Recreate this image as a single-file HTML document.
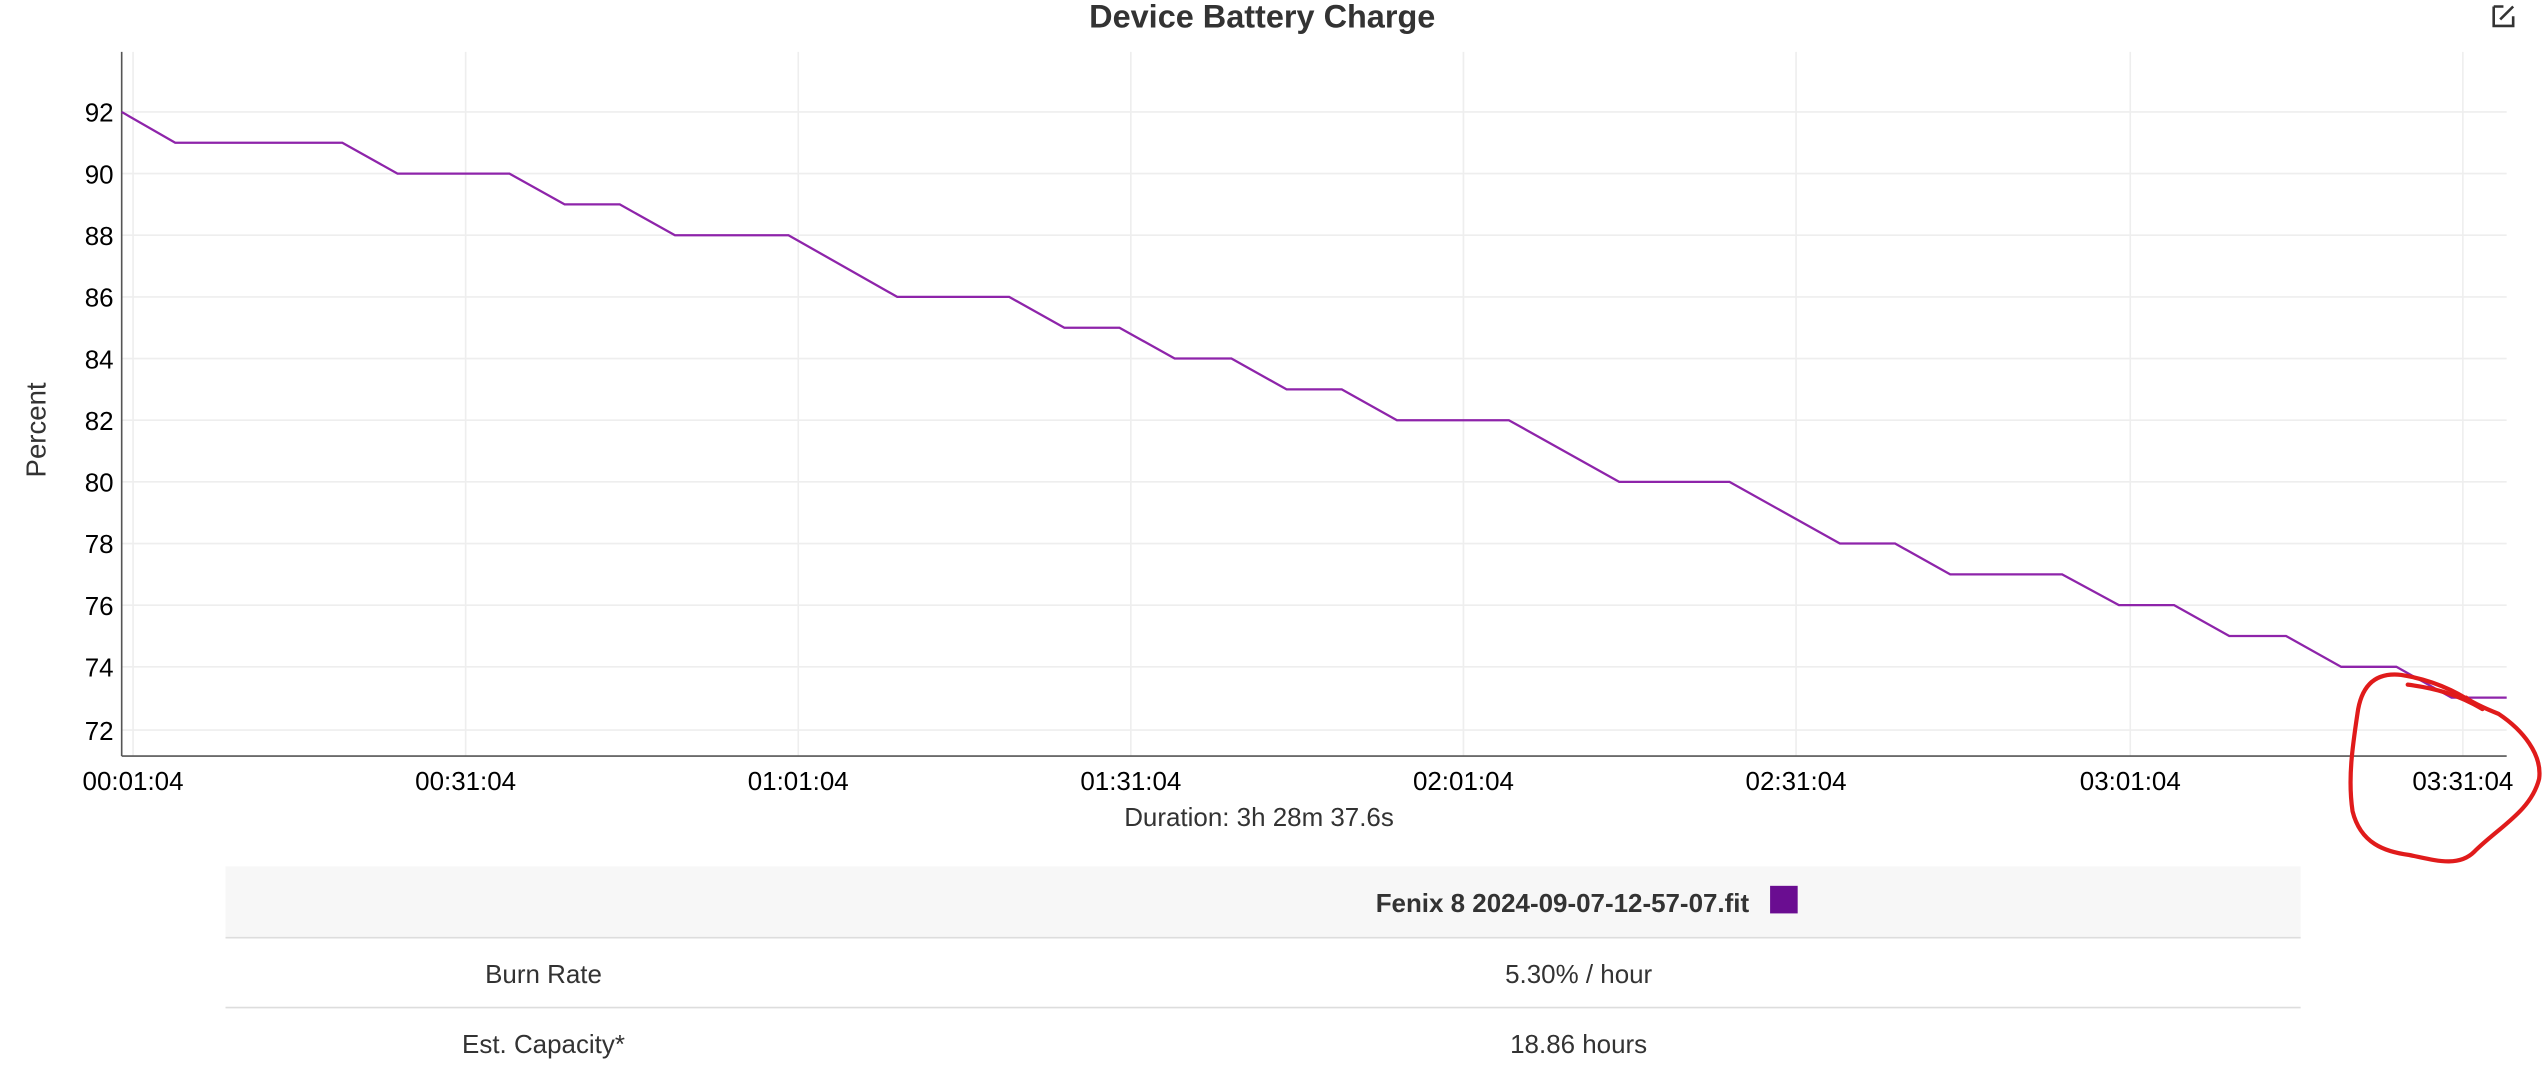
<!DOCTYPE html>
<html><head><style>html,body{margin:0;padding:0;background:#fff;overflow:hidden}svg{display:block}</style></head>
<body>
<svg width="2544" height="1072" viewBox="0 0 1568 660.75" preserveAspectRatio="none" xmlns="http://www.w3.org/2000/svg" font-family="Liberation Sans, sans-serif">
<rect width="1568" height="661" fill="#fff"/>
<text x="778" y="17" text-anchor="middle" font-size="20" font-weight="bold" fill="#333">Device Battery Charge</text>
<g fill="none" stroke="#333" stroke-width="1.6"><path d="M1537 4h6M1537 4v12h12v-6"/><path d="M1541 12l8-8"/></g>
<g stroke="#eee" stroke-width="1">
<line x1="75" x2="1545" y1="69" y2="69"/><line x1="75" x2="1545" y1="107" y2="107"/><line x1="75" x2="1545" y1="145" y2="145"/><line x1="75" x2="1545" y1="183" y2="183"/><line x1="75" x2="1545" y1="221" y2="221"/><line x1="75" x2="1545" y1="259" y2="259"/><line x1="75" x2="1545" y1="297" y2="297"/><line x1="75" x2="1545" y1="335" y2="335"/><line x1="75" x2="1545" y1="373" y2="373"/><line x1="75" x2="1545" y1="411" y2="411"/><line x1="75" x2="1545" y1="450" y2="450"/>
<line x1="82" x2="82" y1="32" y2="466"/><line x1="287" x2="287" y1="32" y2="466"/><line x1="492" x2="492" y1="32" y2="466"/><line x1="697" x2="697" y1="32" y2="466"/><line x1="902" x2="902" y1="32" y2="466"/><line x1="1107" x2="1107" y1="32" y2="466"/><line x1="1313" x2="1313" y1="32" y2="466"/><line x1="1518" x2="1518" y1="32" y2="466"/>
</g>
<line x1="75" x2="75" y1="32" y2="466" stroke="#555"/>
<line x1="75" x2="1545" y1="466" y2="466" stroke="#555"/>
<g font-size="16" fill="#000" text-anchor="end">
<text x="70" y="75">92</text><text x="70" y="113">90</text><text x="70" y="151">88</text><text x="70" y="189">86</text><text x="70" y="227">84</text><text x="70" y="265">82</text><text x="70" y="303">80</text><text x="70" y="341">78</text><text x="70" y="379">76</text><text x="70" y="417">74</text><text x="70" y="456">72</text>
</g>
<g font-size="16" fill="#000" text-anchor="middle">
<text x="82" y="487">00:01:04</text><text x="287" y="487">00:31:04</text><text x="492" y="487">01:01:04</text><text x="697" y="487">01:31:04</text><text x="902" y="487">02:01:04</text><text x="1107" y="487">02:31:04</text><text x="1313" y="487">03:01:04</text><text x="1518" y="487">03:31:04</text>
<text x="776" y="509" fill="#333">Duration: 3h 28m 37.6s</text>
</g>
<text transform="translate(28,265) rotate(-90)" font-size="17" fill="#333" text-anchor="middle">Percent</text>
<polyline fill="none" stroke="#8e24aa" stroke-width="1.4" points="75,69 108,88 211,88 245,107 314,107 348,126 382,126 416,145 486,145 553,183 622,183 656,202 690,202 724,221 759,221 793,240 827,240 861,259 930,259 998,297 1066,297 1134,335 1168,335 1202,354 1271,354 1306,373 1340,373 1374,392 1409,392 1443,411 1477,411 1511,430 1545,430"/>
<g fill="none" stroke="#e01b1b" stroke-width="2.6" stroke-linecap="round">
<path d="M1484,422 C1500,424 1515,428 1530,437"/>
<path d="M1530,437 C1520,430 1505,420 1480,416 C1462,414 1455,425 1453,440 C1450,460 1447,480 1450,500 C1455,520 1470,525 1485,527 C1500,530 1515,535 1525,525 C1540,510 1560,500 1565,480 C1567,465 1555,450 1540,440 C1530,436 1522,432 1520,430"/>
</g>
<rect x="139" y="534" width="1279" height="44" fill="#f7f7f7"/>
<line x1="139" x2="1418" y1="578" y2="578" stroke="#ddd"/>
<line x1="139" x2="1418" y1="621" y2="621" stroke="#ddd"/>
<text x="963" y="562" text-anchor="middle" font-size="16" font-weight="bold" fill="#333">Fenix 8 2024-09-07-12-57-07.fit</text>
<rect x="1091" y="546" width="17" height="17" fill="#6a0d91"/>
<g font-size="16" fill="#333" text-anchor="middle">
<text x="335" y="606">Burn Rate</text><text x="973" y="606">5.30% / hour</text>
<text x="335" y="649">Est. Capacity*</text><text x="973" y="649">18.86 hours</text>
</g>
</svg>
</body></html>
